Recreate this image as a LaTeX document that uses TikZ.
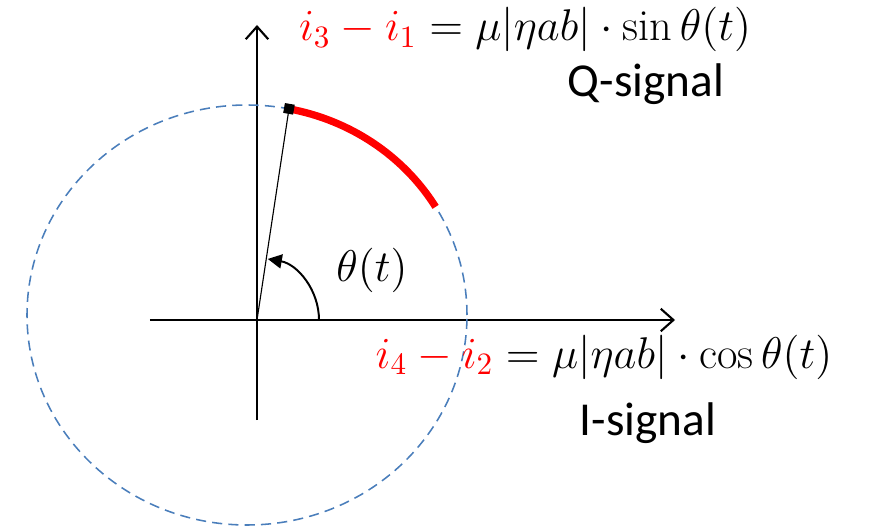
\documentclass[tikz,border=0pt]{standalone}
\usepackage{fix-cm}
\usepackage{fontspec}
\setsansfont{Carlito}
\usetikzlibrary{arrows.meta, calc}
\definecolor{phblue}{HTML}{4A7EBB}
\definecolor{phred}{HTML}{FF0000}

\begin{document}
\begin{tikzpicture}[
    x=1.25cm, y=1.25cm,
    axis/.style={draw=black, line width=0.75pt, -{Straight Barb[length=4.5pt, width=8pt, line width=0.75pt]}},
    orbit/.style={draw=phblue, line width=0.55pt, dash pattern=on 3.6pt off 2.2pt},
    track/.style={draw=phred, line width=2.6pt},
    phase/.style={draw=black, line width=0.7pt, -{Triangle[length=5pt, width=5pt]}},
    eqn/.style={font=\fontsize{15.8}{19}\selectfont, anchor=base, inner sep=0pt},
    sig/.style={font=\sffamily\fontsize{16.8}{20}\selectfont, anchor=base, inner sep=0pt},
  ]
  \useasboundingbox (-2.57,-2.09) rectangle (6.12,3.20);

  % ----- axes -----
  \coordinate (O) at (0,0);
  \coordinate (xl) at (-1.07,0);
  \coordinate (xr) at (4.18,0);
  \coordinate (yb) at (0,-1.00);
  \coordinate (yt) at (0,2.95);
  \draw[axis] (xl) -- (xr);
  \draw[axis] (yb) -- (yt);

  % ----- unit circle (dashed) and the phase track -----
  \coordinate (C) at (-0.10,0.05);
  \draw[orbit] (C) ellipse [x radius=2.2, y radius=2.1];
  \draw[track] ($(C)+(31:2.2 and 2.1)$) arc [start angle=31, end angle=79, x radius=2.2, y radius=2.1];
  \coordinate (tip) at ($(C)+(79:2.2 and 2.1)$);

  % ----- phasor and angle -----
  \draw[line width=0.4pt] (O) -- (tip);
  \fill[black, rotate around={-10:(tip)}] ($(tip)+(-0.05,-0.05)$) rectangle ($(tip)+(0.05,0.05)$);
  \draw[phase] (0.62,0) arc [start angle=0, end angle=80, radius=0.62];
  \node[font=\fontsize{15.8}{19}\selectfont] (theta) at (1.15,0.50) {$\theta(t)$};

  % ----- signal labels -----
  \node[eqn] (qeq) at (2.68,2.79) {$\color{phred}i_3-i_1\color{black}=\mu|\eta ab|\cdot\sin\theta(t)$};
  \node[sig] (qlab) at (3.89,2.23) {Q-signal};
  \node[eqn] (ieq) at (3.47,-0.48) {$\color{phred}i_4-i_2\color{black}=\mu|\eta ab|\cdot\cos\theta(t)$};
  \node[sig] (ilab) at (3.91,-1.15) {I-signal};

\end{tikzpicture}
\end{document}
